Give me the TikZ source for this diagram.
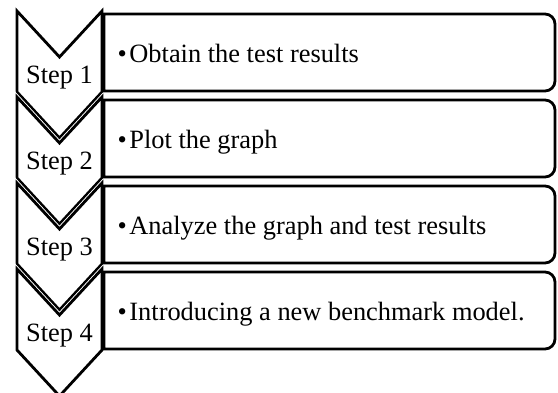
\documentclass[tikz,border=0pt]{standalone}
\usepackage{fontspec}
\setmainfont{Liberation Serif}
\begin{document}
\begin{tikzpicture}[x=1pt,y=-1pt,
  chevwhite/.style={fill=white,draw=white,line width=4.6pt,line join=miter},
  chevblack/.style={draw=black,line width=2.8pt,line join=miter},
  boxline/.style={draw=black,fill=white,line width=2.8pt},
  steplabel/.style={inner sep=0pt,anchor=base,font=\fontsize{26.4}{30}\selectfont},
  itemtext/.style={inner sep=0pt,anchor=base west,font=\fontsize{26.4}{30}\selectfont}]
\useasboundingbox (0,0) rectangle (558,392);
\clip (0,0) rectangle (558,392);
\foreach \k/\txt in {0/{Obtain the test results},1/{Plot the graph},2/{Analyze the graph and test results},3/{Introducing a new benchmark model.}}{
  \pgfmathsetmacro{\yo}{11+86*\k}
  \path[chevwhite] (17,\yo) -- (59.5,\yo+46) -- (102,\yo) -- (102,\yo+81) -- (59.5,\yo+127) -- (17,\yo+81) -- cycle;
  \path[chevblack] (17,\yo) -- (59.5,\yo+46) -- (102,\yo) -- (102,\yo+81) -- (59.5,\yo+127) -- (17,\yo+81) -- cycle;
}
\foreach \k/\txt in {0/{Obtain the test results},1/{Plot the graph},2/{Analyze the graph and test results},3/{Introducing a new benchmark model.}}{
  \pgfmathsetmacro{\bt}{14+86*\k}
  \pgfmathsetmacro{\bb}{91+86*\k}
  \path[boxline] (104,\bt) -- (545,\bt) .. controls (550.5,\bt) and (555,\bt+4.5) .. (555,\bt+10) -- (555,\bb-10) .. controls (555,\bb-4.5) and (550.5,\bb) .. (545,\bb) -- (104,\bb) -- cycle;
  \pgfmathtruncatemacro{\n}{\k+1}
  \node[steplabel] (s\n) at (59.5,83+86*\k) {Step \n};
  \node[itemtext] (t\n) at (117.5,62+86*\k) {\textbullet\hspace{2.5pt}\txt};
}
\end{tikzpicture}
\end{document}
